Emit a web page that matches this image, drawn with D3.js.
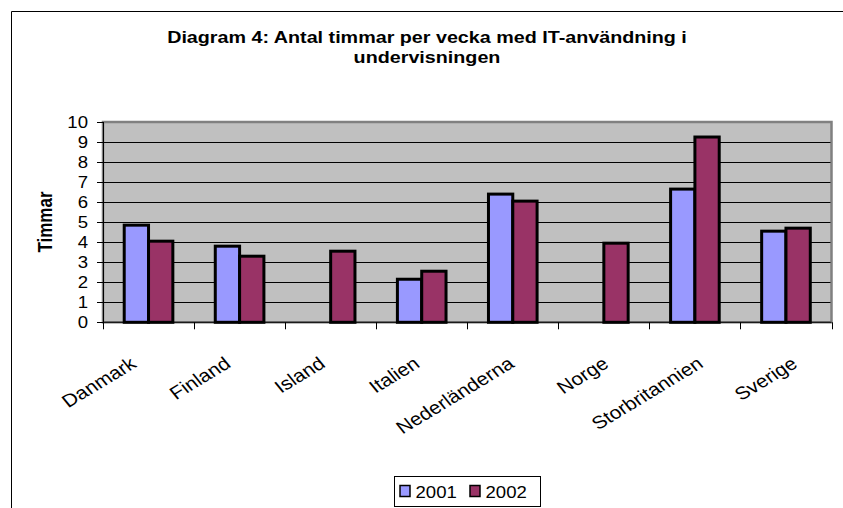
<!DOCTYPE html>
<html>
<head>
<meta charset="utf-8">
<script src="https://cdnjs.cloudflare.com/ajax/libs/d3/7.8.5/d3.min.js"></script>
<style>
    body { margin: 0; background: #fff; }
    text { font-family: "Liberation Sans", Arial, sans-serif; fill: #000; }
</style>
</head>
<body>
<script>
// Chart data
const countries = ['Danmark', 'Finland', 'Island', 'Italien', 'Nederländerna', 'Norge', 'Storbritannien', 'Sverige'];
const seriesNames = ['2001', '2002'];
const values2001 = [4.85, 3.8, null, 2.15, 6.4, null, 6.65, 4.55];
const values2002 = [4.05, 3.3, 3.55, 2.55, 6.05, 3.95, 9.25, 4.7];
const yTicks = [0, 1, 2, 3, 4, 5, 6, 7, 8, 9, 10];
const titleLines = ['Diagram 4: Antal timmar per vecka med IT-användning i', 'undervisningen'];
const colors = ['#9999ff', '#993366'];

const width = 843, height = 508;
const stretch = 1.16; // the original chart is a bit wider than tall, text included

let svg = d3.select('body').append('svg')
    .attr('width', width)
    .attr('height', height);

// outer chart frame (only top and left edge are visible)
svg.append('path')
    .attr('d', 'M11.5,' + height + 'V11.5H' + width)
    .attr('fill', 'none')
    .attr('stroke', '#000')
    .attr('stroke-width', 1);

// plot area
const plot = { left: 103, right: 831.5, top: 122, bottom: 322.3 };

let x = d3.scaleBand()
    .domain(countries)
    .range([plot.left, plot.right])
    .paddingInner(0.466)
    .paddingOuter(0.233);

let x1 = d3.scaleBand()
    .domain(seriesNames)
    .range([0, x.bandwidth()]);

let y = d3.scaleLinear()
    .domain([0, 10])
    .range([plot.bottom, plot.top]);

svg.append('rect')
    .attr('x', plot.left)
    .attr('y', plot.top)
    .attr('width', plot.right - plot.left)
    .attr('height', plot.bottom - plot.top)
    .attr('fill', '#c0c0c0')
    .attr('stroke', '#808080')
    .attr('stroke-width', 2.5);

// horizontal grid lines
svg.append('g')
    .selectAll('line')
    .data(yTicks.slice(1, -1))
    .join('line')
    .attr('x1', plot.left)
    .attr('x2', plot.right - 1)
    .attr('y1', d => Math.round(y(d)) + 0.5)
    .attr('y2', d => Math.round(y(d)) + 0.5)
    .attr('stroke', '#000')
    .attr('stroke-width', 1);

// bars
let rows = countries.map((c, i) => ({ country: c, values: [values2001[i], values2002[i]] }));

svg.append('g')
    .selectAll('g')
    .data(rows)
    .join('g')
    .attr('transform', d => 'translate(' + x(d.country) + ',0)')
    .selectAll('rect')
    .data(d => d.values.map((v, j) => ({ series: seriesNames[j], value: v, color: colors[j] })).filter(d => d.value !== null))
    .join('rect')
    .attr('x', d => x1(d.series))
    .attr('y', d => y(d.value))
    .attr('width', x1.bandwidth())
    .attr('height', d => y(0) - y(d.value))
    .attr('fill', d => d.color)
    .attr('stroke', '#000')
    .attr('stroke-width', 3);

// y axis
let yAxis = svg.append('g')
    .attr('transform', 'translate(' + plot.left + ',0)');

yAxis.append('line')
    .attr('x1', 0.5).attr('x2', 0.5)
    .attr('y1', plot.top).attr('y2', plot.bottom)
    .attr('stroke', '#000');

yAxis.selectAll('line.tick')
    .data(yTicks)
    .join('line')
    .attr('class', 'tick')
    .attr('x1', -6).attr('x2', 0)
    .attr('y1', d => Math.round(y(d)) + 0.5)
    .attr('y2', d => Math.round(y(d)) + 0.5)
    .attr('stroke', '#000');

yAxis.selectAll('text')
    .data(yTicks)
    .join('text')
    .attr('transform', d => 'translate(-15,' + (y(d) + 6) + ') scale(' + stretch + ',1)')
    .attr('text-anchor', 'end')
    .attr('font-size', 16)
    .text(d => d);

// x axis
let xAxis = svg.append('g')
    .attr('transform', 'translate(0,' + plot.bottom + ')');

xAxis.append('line')
    .attr('x1', plot.left).attr('x2', plot.right)
    .attr('y1', 0).attr('y2', 0)
    .attr('stroke', '#000');

// ticks between the categories
let boundaries = countries.map(c => x(c) - x.step() * x.paddingInner() / 2).concat([plot.right]);
boundaries[0] = plot.left;
xAxis.selectAll('line.tick')
    .data(boundaries)
    .join('line')
    .attr('class', 'tick')
    .attr('x1', d => Math.round(d) + 0.5)
    .attr('x2', d => Math.round(d) + 0.5)
    .attr('y1', 0).attr('y2', 7)
    .attr('stroke', '#000');

// rotated category labels, they spread slightly wider than the bars
xAxis.selectAll('text')
    .data(countries)
    .join('text')
    .attr('transform', (d, i) => {
        let cx = x(d) + x.bandwidth() / 2 + 1 + 3.4 * (i - 3.5);
        return 'translate(' + cx + ',44) scale(' + stretch + ',1) rotate(-35)';
    })
    .attr('text-anchor', 'end')
    .attr('font-size', 18)
    .text(d => d);

// y axis title
svg.append('text')
    .attr('transform', 'translate(52,222) scale(' + stretch + ',1) rotate(-90)')
    .attr('text-anchor', 'middle')
    .attr('font-size', 17)
    .attr('font-weight', 'bold')
    .text('Timmar');

// chart title
svg.append('g')
    .selectAll('text')
    .data(titleLines)
    .join('text')
    .attr('transform', (d, i) => 'translate(427,' + (43 + i * 20) + ') scale(' + stretch + ',1)')
    .attr('text-anchor', 'middle')
    .attr('font-size', 17)
    .attr('font-weight', 'bold')
    .text(d => d);

// legend
let legend = svg.append('g')
    .attr('transform', 'translate(394.5,476.5)');

legend.append('rect')
    .attr('width', 146)
    .attr('height', 30)
    .attr('fill', '#fff')
    .attr('stroke', '#000');

let items = legend.selectAll('g')
    .data(seriesNames)
    .join('g')
    .attr('transform', (d, i) => 'translate(' + (5 + i * 70) + ',0)');

items.append('rect')
    .attr('x', 0.5).attr('y', 9)
    .attr('width', 10).attr('height', 11)
    .attr('fill', (d, i) => colors[i])
    .attr('stroke', '#000')
    .attr('stroke-width', 1.5);

items.append('text')
    .attr('transform', 'translate(16,21) scale(' + stretch + ',1)')
    .attr('font-size', 16)
    .text(d => d);
</script>
</body>
</html>
